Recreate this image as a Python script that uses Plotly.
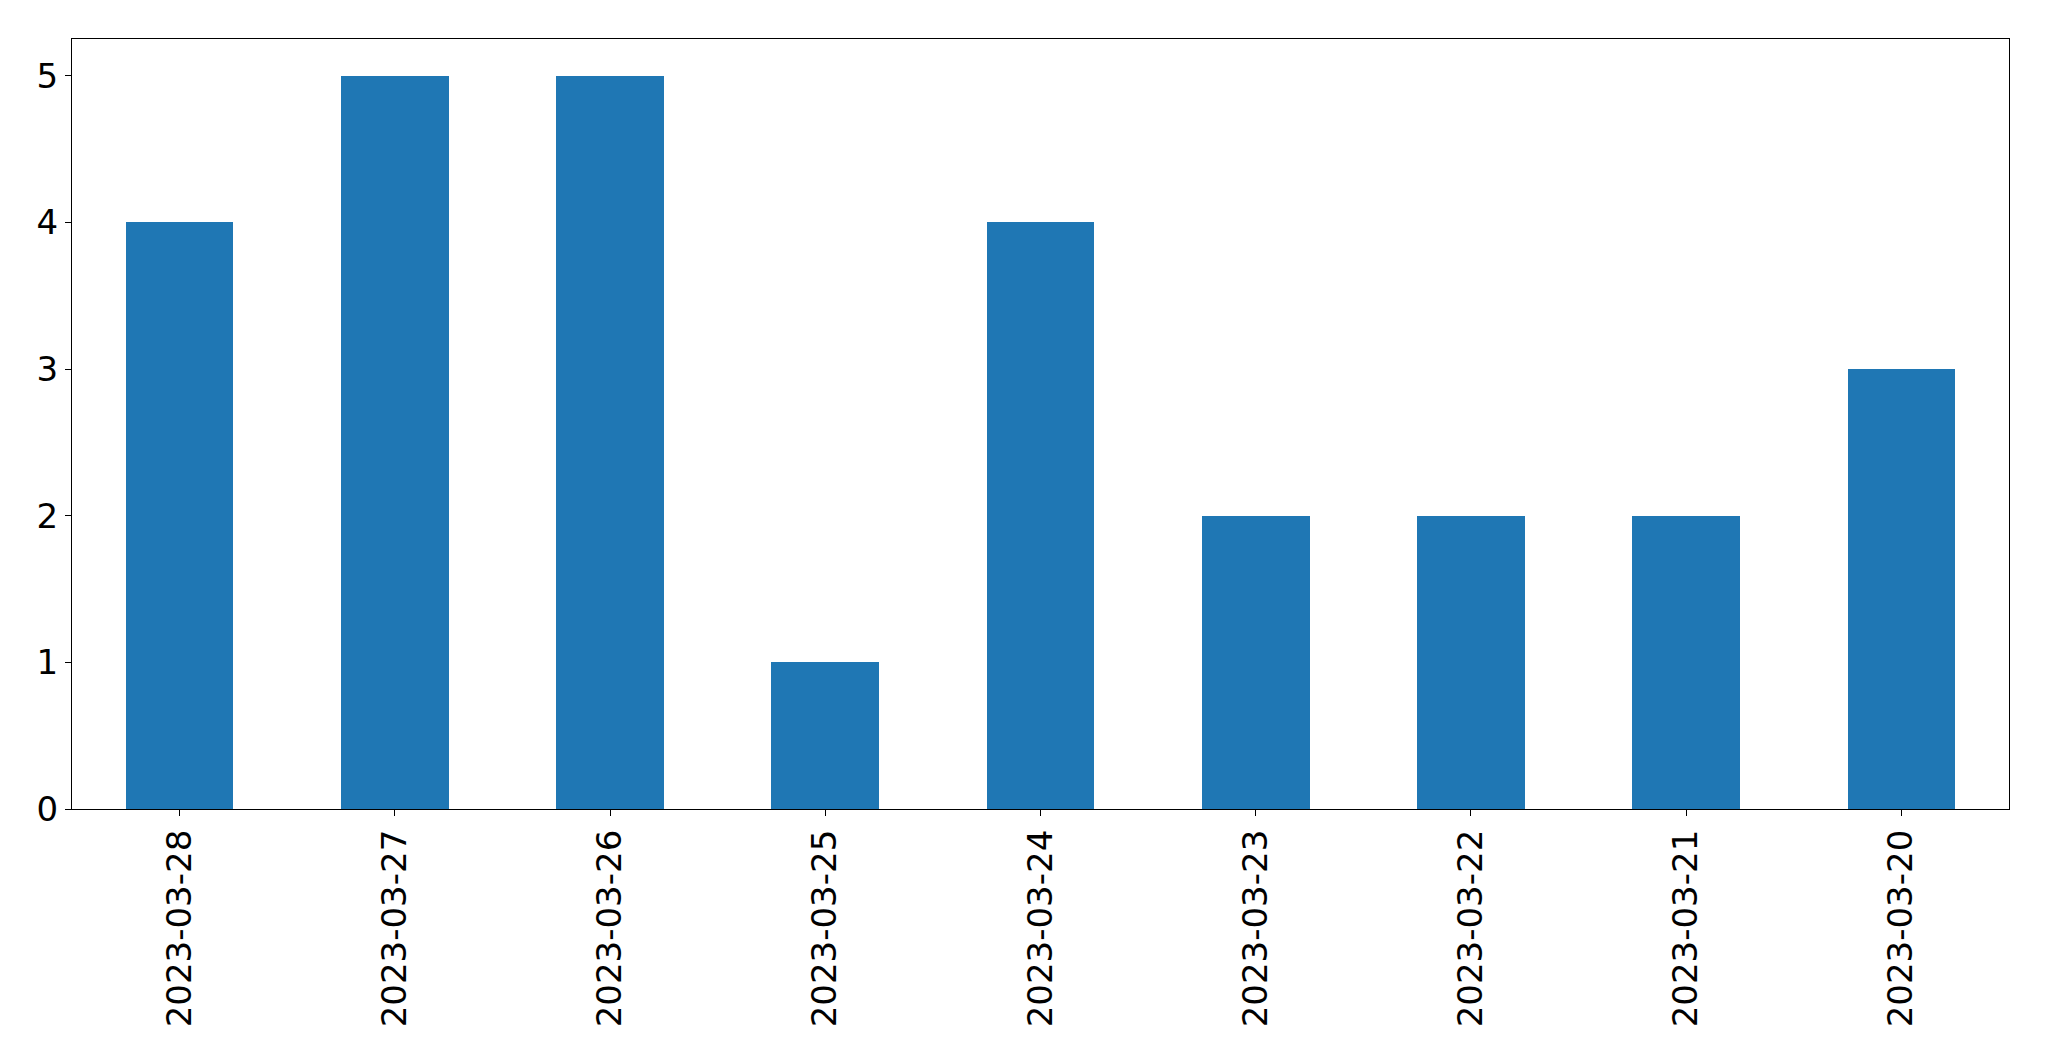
import plotly.graph_objects as go

dates = ["2023-03-28", "2023-03-27", "2023-03-26", "2023-03-25", "2023-03-24",
         "2023-03-23", "2023-03-22", "2023-03-21", "2023-03-20"]
counts = [4, 5, 5, 1, 4, 2, 2, 2, 3]
y_ticks = [0, 1, 2, 3, 4, 5]

fig = go.Figure(go.Bar(x=dates, y=counts, width=0.5, marker=dict(color="#1f77b4", line=dict(width=0))))

axis_common = dict(showline=True, linecolor="black", linewidth=1.3, mirror=True,
                   ticks="outside", ticklen=6, tickwidth=1.3, tickcolor="black",
                   showgrid=False, zeroline=False,
                   tickfont=dict(family="DejaVu Sans", size=34, color="black"))

fig.update_xaxes(type="category", range=[-0.5, 8.5], tickangle=-90, **axis_common)
fig.update_yaxes(range=[0, 5.25], tickvals=y_ticks, ticktext=[str(v) for v in y_ticks], **axis_common)

fig.update_layout(width=2049, height=1061, margin=dict(l=72, r=40, t=39, b=252),
                  plot_bgcolor="white", paper_bgcolor="white", showlegend=False,
                  bargap=0)

fig.write_html("out.html")
